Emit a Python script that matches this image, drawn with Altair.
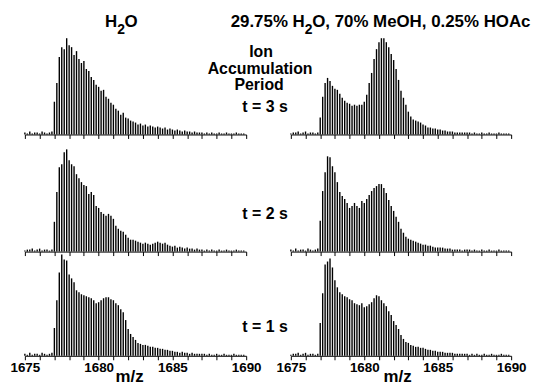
import altair as alt
import pandas as pd

# ---- m/z grid of the isotope peaks (charge 6 -> spacing 1/6) ----
MZ_START = 1675.0
MZ_STEP = 1.0 / 6.0
MZ_DOMAIN = [1675, 1690]
TICK_VALUES = list(range(1675, 1691))

# baseline noise before the envelope (1675.0 - 1676.83)
NOISE_PRE_A = [2, 1, 3, 1, 2, 2, 1, 3, 2, 1, 2, 3]
NOISE_PRE_B = [1, 2, 2, 3, 1, 2, 3, 1, 2, 2, 1, 2]
# tail after 1687.0 up to 1689.83
TAIL_A = [2, 1, 2, 1, 2, 1, 1, 2, 1, 1, 2, 1, 1, 1, 2, 1, 1, 1]
TAIL_B = [2, 2, 1, 2, 1, 1, 2, 1, 1, 2, 1, 1, 1, 2, 1, 1, 1, 1]

# peak heights from 1677.0 to 1686.83, step 1/6
H2O_3S = [33, 52, 78, 88, 86, 97, 90, 88, 80, 84, 76, 72, 74, 66, 64, 58, 55, 50, 48, 44,
          45, 38, 36, 32, 30, 26, 24, 20, 22, 17, 16, 14, 13, 12, 10, 11, 9, 10, 8, 9,
          8, 7, 8, 7, 6, 7, 5, 6, 5, 4, 5, 4, 3, 4, 3, 3, 2, 3, 2, 2]
H2O_2S = [30, 60, 85, 88, 100, 103, 92, 88, 86, 78, 74, 70, 67, 66, 58, 60, 57, 46, 44, 40,
          38, 36, 38, 36, 33, 26, 23, 21, 20, 17, 14, 12, 12, 11, 10, 9, 8, 9, 8, 7,
          8, 9, 10, 9, 8, 9, 7, 6, 5, 6, 4, 5, 4, 3, 4, 3, 3, 2, 3, 2]
H2O_1S = [28, 56, 84, 102, 97, 96, 82, 78, 74, 66, 64, 62, 61, 60, 59, 58, 56, 53, 54, 56,
          58, 59, 59, 57, 56, 53, 51, 47, 44, 36, 27, 22, 19, 16, 13, 12, 11, 11, 10, 9,
          9, 8, 8, 7, 7, 6, 6, 5, 5, 4, 4, 3, 4, 3, 3, 2, 3, 2, 2, 2]
MEOH_3S = [17, 38, 52, 57, 54, 49, 46, 45, 41, 37, 34, 32, 31, 29, 30, 29, 30, 30, 33, 40,
           52, 62, 76, 86, 93, 97, 97, 93, 88, 81, 75, 66, 55, 44, 37, 30, 23, 18, 15, 14,
           13, 12, 10, 9, 7, 7, 6, 6, 5, 5, 4, 4, 3, 3, 3, 2, 2, 2, 2, 2]
MEOH_2S = [31, 61, 80, 96, 95, 86, 80, 70, 60, 56, 53, 49, 44, 46, 49, 46, 44, 51, 49, 53,
           57, 61, 64, 66, 68, 68, 64, 59, 52, 46, 41, 35, 30, 23, 19, 15, 13, 12, 11, 10,
           9, 8, 7, 7, 6, 6, 5, 4, 4, 4, 4, 3, 3, 3, 2, 2, 2, 2, 1, 2]
MEOH_1S = [33, 63, 92, 95, 98, 89, 76, 69, 64, 62, 60, 59, 57, 56, 53, 52, 51, 53, 49, 50,
           52, 54, 58, 61, 60, 56, 53, 50, 45, 41, 35, 31, 27, 21, 17, 14, 13, 11, 10, 9,
           9, 8, 8, 7, 6, 6, 5, 5, 4, 4, 4, 3, 3, 3, 3, 2, 2, 2, 2, 2]

FONT = "Liberation Sans"
ROW_HEIGHTS = [100, 113, 100]
LEFT_W, RIGHT_W = 223, 222


def spectrum(pre, peaks, tail):
    vals = pre + peaks + tail
    return pd.DataFrame({
        "mz": [MZ_START + i * MZ_STEP for i in range(len(vals))],
        "intensity": vals,
    })


def panel(df, width, height, bottom, title_x):
    axis_kw = dict(
        values=TICK_VALUES, tickSize=4, tickWidth=1, tickColor="black",
        domainColor="black", domainWidth=1, grid=False, labelOverlap=False,
        title="",
    )
    if bottom:
        axis_kw.update(
            labels=True, format="d",
            labelExpr="datum.value % 5 === 0 ? datum.label : ''",
            labelFont=FONT, labelFontWeight="bold", labelFontSize=13.5,
            labelColor="black", labelPadding=1, labelFlush=False, labelAlign="center",
            title="m/z", titleFont=FONT, titleFontWeight="bold", titleFontSize=17,
            titleColor="black", titleX=title_x, titleY=26, titleBaseline="alphabetic",
            titleAlign="center",
        )
    else:
        axis_kw.update(labels=False)
    return alt.Chart(df).mark_rule(color="black", strokeWidth=1.4).encode(
        x=alt.X("mz:Q", scale=alt.Scale(domain=MZ_DOMAIN, nice=False, zero=False),
                axis=alt.Axis(**axis_kw)),
        y=alt.Y("intensity:Q", scale=alt.Scale(domain=[0, height]), axis=None),
        y2=alt.datum(0),
    ).properties(width=width, height=height)


def label(text, x, y, size=17, align="center"):
    return alt.Chart(alt.Data(values=[{}])).mark_text(
        text=text, font=FONT, fontWeight="bold", fontSize=size, color="black",
        align=align, baseline="alphabetic",
    ).encode(x=alt.value(x), y=alt.value(y))


annotations = [
    label("H", 93, -8, align="right"),
    label("2", 93, -1, size=14, align="left"),
    label("O", 100.5, -8, align="left"),
    label("29.75% H", 282, -8, align="right"),
    label("2", 282, -1, size=14, align="left"),
    label("O, 70% MeOH, 0.25% HOAc", 289.5, -8, align="left"),
    label("Ion", 238, 22, size=16),
    label("Accumulation", 237, 39, size=16),
    label("Period", 236, 55, size=16),
    label("t = 3 s", 242, 77, size=16),
    label("t = 2 s", 242, 185, size=16),
    label("t = 1 s", 242, 299, size=16),
]

lt = alt.layer(panel(spectrum(NOISE_PRE_A, H2O_3S, TAIL_A), LEFT_W, ROW_HEIGHTS[0], False, 105),
               *annotations)
rt = panel(spectrum(NOISE_PRE_B, MEOH_3S, TAIL_B), RIGHT_W, ROW_HEIGHTS[0], False, 107)
lm = panel(spectrum(NOISE_PRE_B, H2O_2S, TAIL_A), LEFT_W, ROW_HEIGHTS[1], False, 105)
rm = panel(spectrum(NOISE_PRE_A, MEOH_2S, TAIL_B), RIGHT_W, ROW_HEIGHTS[1], False, 107)
lb = panel(spectrum(NOISE_PRE_A, H2O_1S, TAIL_B), LEFT_W, ROW_HEIGHTS[2], True, 105)
rb = panel(spectrum(NOISE_PRE_B, MEOH_1S, TAIL_A), RIGHT_W, ROW_HEIGHTS[2], True, 107)

chart = alt.concat(
    lt, rt, lm, rm, lb, rb, columns=2,
    spacing={"row": 5, "column": 45}, bounds="flush",
).properties(
    padding={"left": 1, "top": 3, "right": 0, "bottom": 0},
    background="white",
).configure_view(stroke="transparent")

chart.save("out.html", embed_options={"renderer": "svg", "actions": False})
